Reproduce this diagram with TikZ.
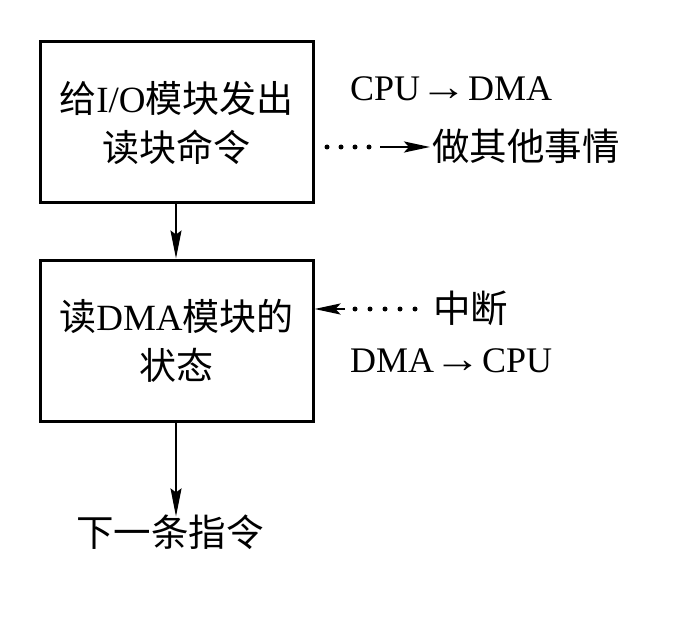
\documentclass[tikz,border=0pt]{standalone}
\usepackage{fontspec}
\usepackage{graphicx}
\setmainfont{Liberation Serif}
\newfontfamily\cjk{Noto Sans CJK SC}
\usetikzlibrary{arrows.meta}
\newcommand\zh[1]{{\cjk #1}}
\newcommand\rarr{\kern0.5pt\scalebox{1.3}[1.1]{→}\kern0.5pt}
\begin{document}
\begin{tikzpicture}[x=1pt,y=-1pt,
  blk/.style={draw,line width=3pt,minimum width=273pt,minimum height=161pt,inner sep=0pt,
    align=center,font=\fontsize{37}{49}\selectfont},
  lbl/.style={inner sep=0pt,font=\fontsize{36}{40}\selectfont},
  zhlbl/.style={inner sep=0pt,font=\fontsize{37.5}{40}\selectfont\cjk},
  conn/.style={line width=1.8pt,-{Stealth[length=28pt,width=11pt,inset=4pt]}},
  dots/.style={line width=5pt,line cap=round,dash pattern=on 0pt off 14pt},
  tipconn/.style={line width=2.5pt,-{Stealth[length=26pt,width=11pt,inset=5pt]}}]
\useasboundingbox (0,0) rectangle (698,620);
\node[blk] (b1) at (176.5,122.5) {\zh{给}I/O\zh{模块发出}\\\zh{读块命令}};
\node[blk] (b2) at (176.5,340.5) {\zh{读}DMA\zh{模块的}\\\zh{状态}};
\node[lbl,anchor=west] (c2d) at (350,89) {CPU\rarr DMA};
\node[zhlbl,anchor=west] (other) at (432,146) {做其他事情};
\node[zhlbl,anchor=west] (intr) at (433,308) {中断};
\node[lbl,anchor=west] (d2c) at (350,361) {DMA\rarr CPU};
\node[zhlbl] (next) at (170,532) {下一条指令};
% dotted arrow to "other"
\coordinate (d1s) at (327,147);
\coordinate (d1e) at (371,147);
\coordinate (t1s) at (380,147);
\draw[dots] (d1s) -- (d1e);
\draw[tipconn] (t1s) -- ([xshift=-2pt]other.west |- t1s);
% dotted arrow from "intr"
\coordinate (d2s) at (415,309);
\coordinate (d2e) at (354,309);
\coordinate (t2s) at (345,309);
\draw[dots,dash pattern=on 0pt off 15pt] (d2s) -- (d2e);
\draw[tipconn] (t2s) -- (b2.east |- t2s);
% solid arrows
\draw[conn] (b1.south -| 176,0) -- (b2.north -| 176,0);
\draw[conn] (b2.south -| 176,0) -- ([yshift=-2pt]next.north -| 176,0);
\end{tikzpicture}
\end{document}
